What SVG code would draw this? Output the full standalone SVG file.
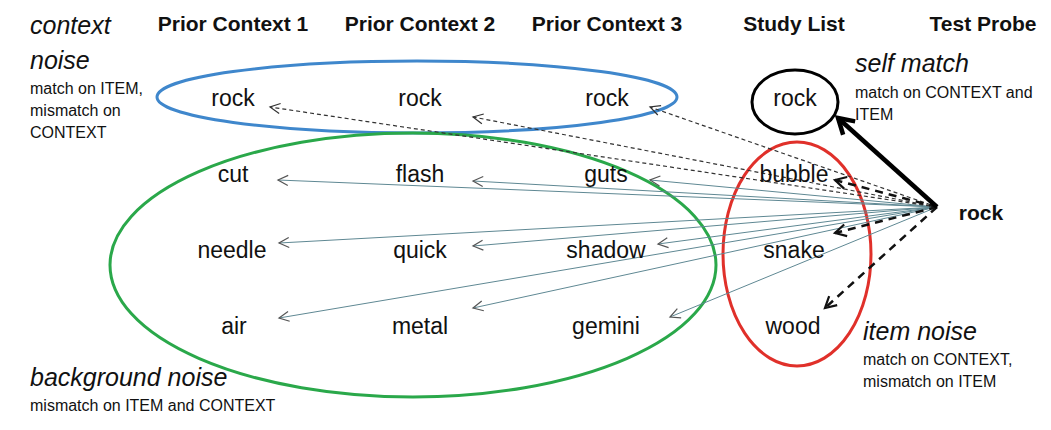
<svg xmlns="http://www.w3.org/2000/svg" width="1051" height="430" viewBox="0 0 1051 430">
<style>
.hdr{font-family:"Liberation Sans",Arial,sans-serif;font-weight:bold;font-size:21px;fill:#111;text-anchor:middle}
.item{font-family:"Liberation Sans",Arial,sans-serif;font-size:23px;fill:#111;text-anchor:middle}
.probe{font-family:"Liberation Sans",Arial,sans-serif;font-weight:bold;font-size:21px;fill:#111;text-anchor:middle}
.ital{font-family:"Liberation Sans",Arial,sans-serif;font-style:italic;font-size:25px;fill:#111}
.note{font-family:"Liberation Sans",Arial,sans-serif;font-size:16px;fill:#111}
.thin{stroke:#5f8893;stroke-width:1;fill:none;marker-end:url(#aThin)}
.dash{stroke:#333;stroke-width:1.2;stroke-dasharray:4 3;fill:none;marker-end:url(#aDash)}
.bdash{stroke:#111;stroke-width:2.5;stroke-dasharray:8 6;fill:none;marker-end:url(#aBDash)}
.thick{stroke:#000;stroke-width:4.5;fill:none;marker-end:url(#aThick)}
.ell{fill:none;stroke-width:3}
</style>
<defs>
<marker id="aThin" markerUnits="userSpaceOnUse" viewBox="-12 -7 14 14" refX="0" refY="0" markerWidth="14" markerHeight="14" orient="auto"><path d="M-10,-5 L0,0 L-10,5" fill="none" stroke="#555" stroke-width="1.2"/></marker>
<marker id="aDash" markerUnits="userSpaceOnUse" viewBox="-12 -7 14 14" refX="0" refY="0" markerWidth="14" markerHeight="14" orient="auto"><path d="M-10,-5 L0,0 L-10,5" fill="none" stroke="#333" stroke-width="1.2"/></marker>
<marker id="aBDash" markerUnits="userSpaceOnUse" viewBox="-14 -9 17 18" refX="0" refY="0" markerWidth="17" markerHeight="18" orient="auto"><path d="M-11,-6 L0,0 L-11,6" fill="none" stroke="#111" stroke-width="2.2"/></marker>
<marker id="aThick" markerUnits="userSpaceOnUse" viewBox="-18 -12 22 24" refX="0" refY="0" markerWidth="22" markerHeight="24" orient="auto"><path d="M-15,-9 L0,0 L-15,9" fill="none" stroke="#000" stroke-width="4.5"/></marker>
</defs>
<rect width="1051" height="430" fill="#fff"/>

<g id="headers">
<text class="hdr" x="233" y="31">Prior Context 1</text>
<text class="hdr" x="420" y="31">Prior Context 2</text>
<text class="hdr" x="607" y="31">Prior Context 3</text>
<text class="hdr" x="794" y="31">Study List</text>
<text class="hdr" x="983" y="31">Test Probe</text>
</g>

<g id="group-context-noise"><ellipse class="ell" cx="417" cy="97" rx="260" ry="36" stroke="#3f87cc"/></g>
<g id="group-background-noise"><ellipse class="ell" cx="413" cy="265" rx="303" ry="132" stroke="#2aa84a"/></g>
<g id="group-item-noise"><ellipse class="ell" cx="797" cy="254" rx="74" ry="112" stroke="#e0302a"/></g>
<g id="group-self-match"><ellipse class="ell" cx="795" cy="102" rx="43" ry="32" stroke="#000"/></g>

<g id="connectors">
<line class="thin" x1="937" y1="207" x2="278" y2="180"/>
<line class="thin" x1="937" y1="207" x2="473" y2="181"/>
<line class="thin" x1="937" y1="207" x2="650" y2="180"/>
<line class="thin" x1="937" y1="207" x2="279" y2="243"/>
<line class="thin" x1="937" y1="207" x2="473" y2="246"/>
<line class="thin" x1="937" y1="207" x2="658" y2="244"/>
<line class="thin" x1="937" y1="207" x2="279" y2="318"/>
<line class="thin" x1="937" y1="207" x2="473" y2="308"/>
<line class="thin" x1="937" y1="207" x2="670" y2="317"/>
<line class="dash" x1="937" y1="207" x2="270" y2="107"/>
<line class="dash" x1="937" y1="207" x2="473" y2="117"/>
<line class="dash" x1="937" y1="207" x2="650" y2="107"/>
<line class="bdash" x1="937" y1="207" x2="835" y2="180"/>
<line class="bdash" x1="937" y1="207" x2="835" y2="233"/>
<line class="bdash" x1="937" y1="207" x2="825" y2="308"/>
<line class="thick" x1="937" y1="207" x2="838" y2="118"/>
</g>

<g id="n-rock-c1"><text class="item" x="233" y="106">rock</text></g>
<g id="n-rock-c2"><text class="item" x="420" y="106">rock</text></g>
<g id="n-rock-c3"><text class="item" x="607" y="106">rock</text></g>
<g id="n-rock-study"><text class="item" x="795" y="106">rock</text></g>
<g id="n-cut"><text class="item" x="233" y="182">cut</text></g>
<g id="n-flash"><text class="item" x="420" y="182">flash</text></g>
<g id="n-guts"><text class="item" x="606" y="182">guts</text></g>
<g id="n-bubble"><text class="item" x="794" y="182">bubble</text></g>
<g id="n-needle"><text class="item" x="232" y="258">needle</text></g>
<g id="n-quick"><text class="item" x="420" y="258">quick</text></g>
<g id="n-shadow"><text class="item" x="606" y="258">shadow</text></g>
<g id="n-snake"><text class="item" x="794" y="258">snake</text></g>
<g id="n-air"><text class="item" x="234" y="334">air</text></g>
<g id="n-metal"><text class="item" x="420" y="334">metal</text></g>
<g id="n-gemini"><text class="item" x="606" y="334">gemini</text></g>
<g id="n-wood"><text class="item" x="793" y="334">wood</text></g>
<g id="n-probe"><text class="probe" x="981" y="220">rock</text></g>

<g id="label-context-noise">
<text class="ital" x="30" y="34">context</text>
<text class="ital" x="30" y="69">noise</text>
<text class="note" x="30" y="94">match on ITEM,</text>
<text class="note" x="30" y="116">mismatch on</text>
<text class="note" x="30" y="138">CONTEXT</text>
</g>
<g id="label-self-match">
<text class="ital" x="855" y="72">self match</text>
<text class="note" x="855" y="98">match on CONTEXT and</text>
<text class="note" x="855" y="120">ITEM</text>
</g>
<g id="label-item-noise">
<text class="ital" x="863" y="340">item noise</text>
<text class="note" x="863" y="365">match on CONTEXT,</text>
<text class="note" x="863" y="387">mismatch on ITEM</text>
</g>
<g id="label-background-noise">
<text class="ital" x="30" y="386">background noise</text>
<text class="note" x="30" y="411">mismatch on ITEM and CONTEXT</text>
</g>
</svg>
